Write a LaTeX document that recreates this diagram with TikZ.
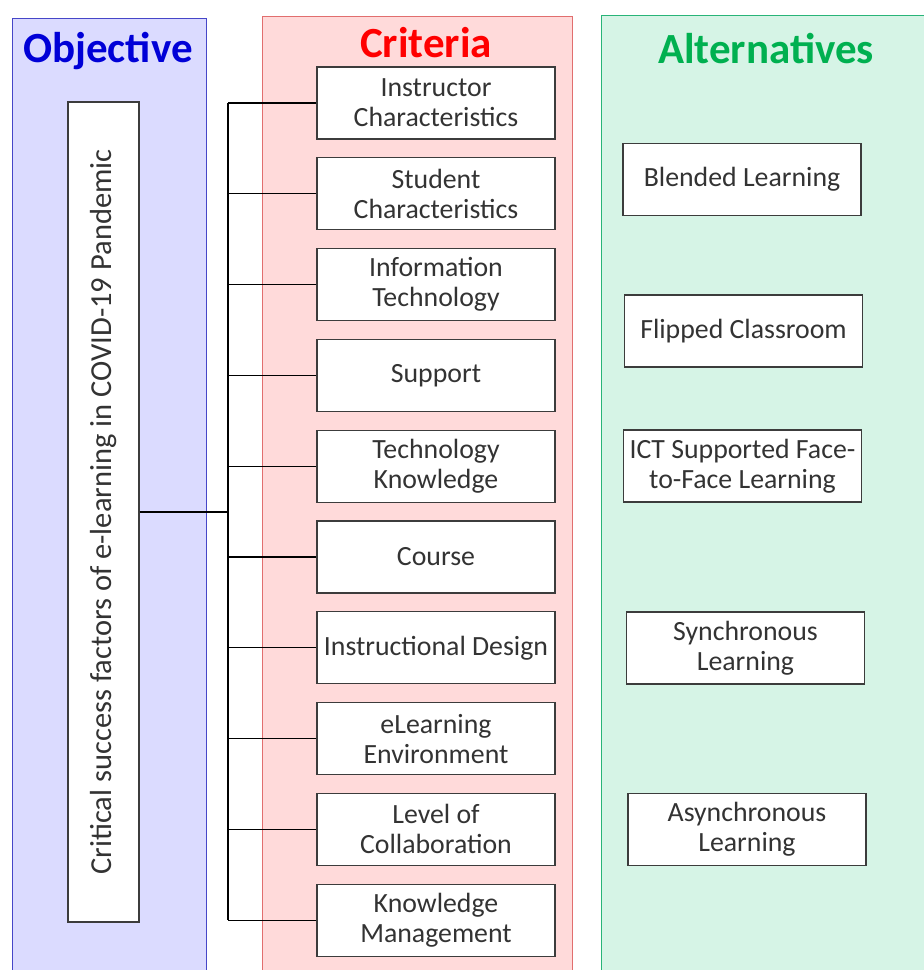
\documentclass[tikz,border=0pt]{standalone}
\usepackage{fontspec}
\setmainfont{Carlito}
\usetikzlibrary{positioning}
\definecolor{objblue}{RGB}{0,0,215}
\definecolor{objfill}{RGB}{219,219,255}
\definecolor{objline}{RGB}{70,70,200}
\definecolor{critred}{RGB}{255,0,0}
\definecolor{critfill}{RGB}{255,218,218}
\definecolor{critline}{RGB}{225,110,110}
\definecolor{altgreen}{RGB}{0,176,80}
\definecolor{altfill}{RGB}{214,244,230}
\definecolor{altline}{RGB}{40,180,120}
\definecolor{boxgray}{RGB}{60,60,60}
\tikzset{
  title/.style={font=\fontsize{43}{47}\selectfont\bfseries, anchor=base},
  box/.style={draw=boxgray, line width=1.3pt, fill=white, text=black!80,
    minimum width=238pt, minimum height=72pt, inner sep=2pt, align=center,
    font=\fontsize{27.8}{30}\selectfont},
}
\begin{document}
\begin{tikzpicture}[x=1pt, y=-1pt, line width=1.3pt, node distance=90.8pt]
    \useasboundingbox (0,0) rectangle (924,970);
    \clip (0,0) rectangle (924,970);

    % columns
    \draw [draw=objline, fill=objfill, line width=1pt] (12,18) rectangle (206,990);
    \draw [draw=critline, fill=critfill, line width=1pt] (262,16) rectangle (572,990);
    \draw [draw=altline, fill=altfill, line width=1pt] (601,15) rectangle (940,990);

    \node [title, text=objblue] (tobj) at (108,62) {Objective};
    \node [title, text=critred] (tcrit) at (426,57) {Criteria};
    \node [title, text=altgreen] (talt) at (766,63) {Alternatives};

    % objective
    \node [box, rotate=90, minimum width=820pt, minimum height=71pt,
        font=\fontsize{30.5}{34}\selectfont] (obj) at (103.5,512)
        {Critical success factors of e-learning in COVID-19 Pandemic};

    % criteria
    \node [box] (c1) at (436,103) {Instructor\\Characteristics};
    \node [box] (c2) [below of = c1] {Student\\Characteristics};
    \node [box] (c3) [below of = c2] {Information\\Technology};
    \node [box] (c4) [below of = c3] {Support};
    \node [box] (c5) [below of = c4] {Technology\\Knowledge};
    \node [box] (c6) [below of = c5] {Course};
    \node [box] (c7) [below of = c6] {Instructional Design};
    \node [box] (c8) [below of = c7] {eLearning\\Environment};
    \node [box] (c9) [below of = c8] {Level of\\Collaboration};
    \node [box] (c10) [below of = c9] {Knowledge\\Management};

    % alternatives
    \node [box] (a1) at (742,179.5) {Blended Learning};
    \node [box] (a2) at (743.5,331) {Flipped Classroom};
    \node [box] (a3) at (742.5,466) {ICT Supported Face-\\to-Face Learning};
    \node [box] (a4) at (745.5,648) {Synchronous\\Learning};
    \node [box] (a5) at (747,829.5) {Asynchronous\\Learning};

    % connectors
    \coordinate (jn) at (228,512);
    \draw (obj.south) -- (jn);
    \draw (jn |- c1.west) -- (jn |- c10.west);
    \foreach \i in {1,...,10}
        \draw (jn |- c\i.west) -- (c\i.west);

\end{tikzpicture}
\end{document}
